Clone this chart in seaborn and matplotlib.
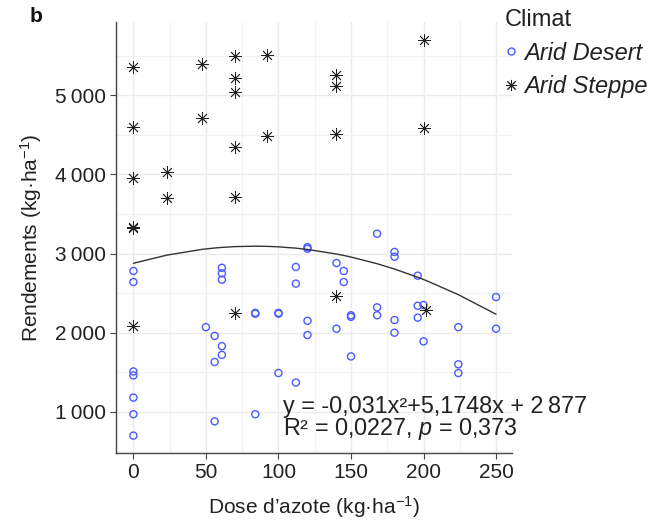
import numpy as np
import pandas as pd
import matplotlib
matplotlib.use("Agg")
import matplotlib.pyplot as plt
from matplotlib.ticker import FuncFormatter, MultipleLocator
from matplotlib.lines import Line2D
import seaborn as sns

# ---------------- data ----------------
steppe_dose = [0, 0, 0, 0, 0, 0, 23, 23, 47, 47, 70, 70, 70, 70, 70, 70,
               92, 92, 140, 140, 140, 140, 200, 200, 202]
steppe_yield = [5360, 4600, 3960, 3340, 3320, 2090, 4030, 3700, 5390, 4710,
                5500, 5220, 5040, 4350, 3720, 2250, 5510, 4490,
                5260, 5120, 4510, 2460, 5700, 4590, 2290]

desert_dose = [0, 0, 0, 0, 0, 0, 0,
               50, 56, 56, 56, 61, 61, 61, 61, 61,
               84, 84, 84, 100, 100, 100, 112, 112, 112,
               120, 120, 120, 120, 140, 140, 145, 145,
               150, 150, 150, 168, 168, 168, 180, 180, 180, 180,
               196, 196, 196, 200, 200, 224, 224, 224, 250, 250]
desert_yield = [2780, 2640, 1510, 1460, 1180, 970, 700,
                2070, 1960, 1630, 880, 2820, 2750, 2670, 1830, 1720,
                2250, 2240, 970, 2250, 2240, 1490, 2830, 2620, 1370,
                3080, 3060, 2150, 1970, 2880, 2050, 2780, 2640,
                2220, 2200, 1700, 3250, 2320, 2220, 3020, 2960, 2160, 2000,
                2720, 2340, 2190, 2350, 1890, 2070, 1600, 1490, 2450, 2050]

climates = ["Arid Desert", "Arid Steppe"]
fit_coefs = [-0.031, 5.1748, 2877]  # quadratic fit given on chart

x_ticks = [0, 50, 100, 150, 200, 250]
y_ticks = [1000, 2000, 3000, 4000, 5000]

df = pd.DataFrame({
    "dose": desert_dose + steppe_dose,
    "rendement": desert_yield + steppe_yield,
    "Climat": [climates[0]] * len(desert_dose) + [climates[1]] * len(steppe_dose),
})

# ---------------- style ----------------
sns.set_theme(style="white")
plt.rcParams["font.family"] = ["Liberation Sans", "DejaVu Sans"]
plt.rcParams["mathtext.fontset"] = "custom"
plt.rcParams["mathtext.rm"] = "Liberation Sans"
plt.rcParams["mathtext.it"] = "Liberation Sans:italic"
plt.rcParams["mathtext.bf"] = "Liberation Sans:bold"

blue = "#4a5bff"
dark = "#222222"

fig = plt.figure(figsize=(6.67, 5.26), dpi=100)
ax = fig.add_axes([116 / 667, 1 - 453 / 526, (512 - 116) / 667, (453 - 22) / 526])

d = df[df.Climat == climates[0]]
s = df[df.Climat == climates[1]]
sns.scatterplot(data=d, x="dose", y="rendement", ax=ax, marker="o",
                facecolor="none", edgecolor=blue, linewidth=1.0, s=26,
                legend=False, zorder=3)
sns.scatterplot(data=s, x="dose", y="rendement", ax=ax, marker=(8, 2, 0),
                color=dark, edgecolor=dark, linewidth=0.6, s=75,
                legend=False, zorder=3)

xs = np.array(sorted(set(df["dose"])))
ys = np.polyval(fit_coefs, xs)
sns.lineplot(x=xs, y=ys, ax=ax, color="#333333", linewidth=1.0, zorder=4,
             estimator=None)

ax.set_xlim(-12, 261)
ax.set_ylim(480, 5925)
ax.set_xticks(x_ticks)
ax.set_yticks(y_ticks)
ax.xaxis.set_minor_locator(MultipleLocator(25))
ax.yaxis.set_minor_locator(MultipleLocator(500))
ax.yaxis.set_major_formatter(FuncFormatter(lambda v, p: f"{int(v):,}".replace(",", "\u2009")))

ax.grid(True, which="major", color="#ebebeb", linewidth=1.0, zorder=0)
ax.grid(True, which="minor", color="#f2f2f2", linewidth=0.8, zorder=0)
ax.set_axisbelow(True)

for sp in ["top", "right"]:
    ax.spines[sp].set_visible(False)
for sp in ["left", "bottom"]:
    ax.spines[sp].set_color("#444444")
    ax.spines[sp].set_linewidth(1.0)

ax.tick_params(axis="both", which="major", direction="out", length=4, width=0.8,
               color="#444444", labelsize=15, labelcolor="#222222", pad=3,
               bottom=True, left=True)
ax.tick_params(axis="both", which="minor", length=0)

ax.set_xlabel("Dose d\u2019azote (kg\u00b7ha$^{-1}$)", fontsize=15, color="#222222", labelpad=9)
ax.set_ylabel("Rendements (kg\u00b7ha$^{-1}$)", fontsize=15, color="#222222", labelpad=8)

ax.text(103, 984, "y = -0,031x\u00b2+5,1748x + 2\u2009877",
        fontsize=16.8, color="#222222", ha="left", va="baseline", zorder=5)
ax.text(103, 706, "R\u00b2 = 0,0227, $p$ = 0,373",
        fontsize=16.8, color="#222222", ha="left", va="baseline", zorder=5)

fig.text(30 / 667, 1 - 22 / 526, "b", fontsize=15, fontweight="bold", color="#111111")

handles = [
    Line2D([], [], linestyle="none", marker="o", markerfacecolor="none",
           markeredgecolor=blue, markeredgewidth=1.0, markersize=5),
    Line2D([], [], linestyle="none", marker=(8, 2, 0), color=dark,
           markeredgewidth=0.7, markersize=8),
]
leg = fig.legend(handles, climates, loc="upper left", bbox_to_anchor=(505 / 667, 1 - 9 / 526),
                 frameon=False, title="Climat", fontsize=17, title_fontsize=17,
                 handlelength=0.5, handletextpad=0.3, labelspacing=0.45,
                 borderpad=0.0, borderaxespad=0.0, alignment="left")
for t in leg.get_texts():
    t.set_fontstyle("italic")
    t.set_color("#222222")
leg.get_title().set_color("#222222")

fig.savefig("out.png", dpi=100)
